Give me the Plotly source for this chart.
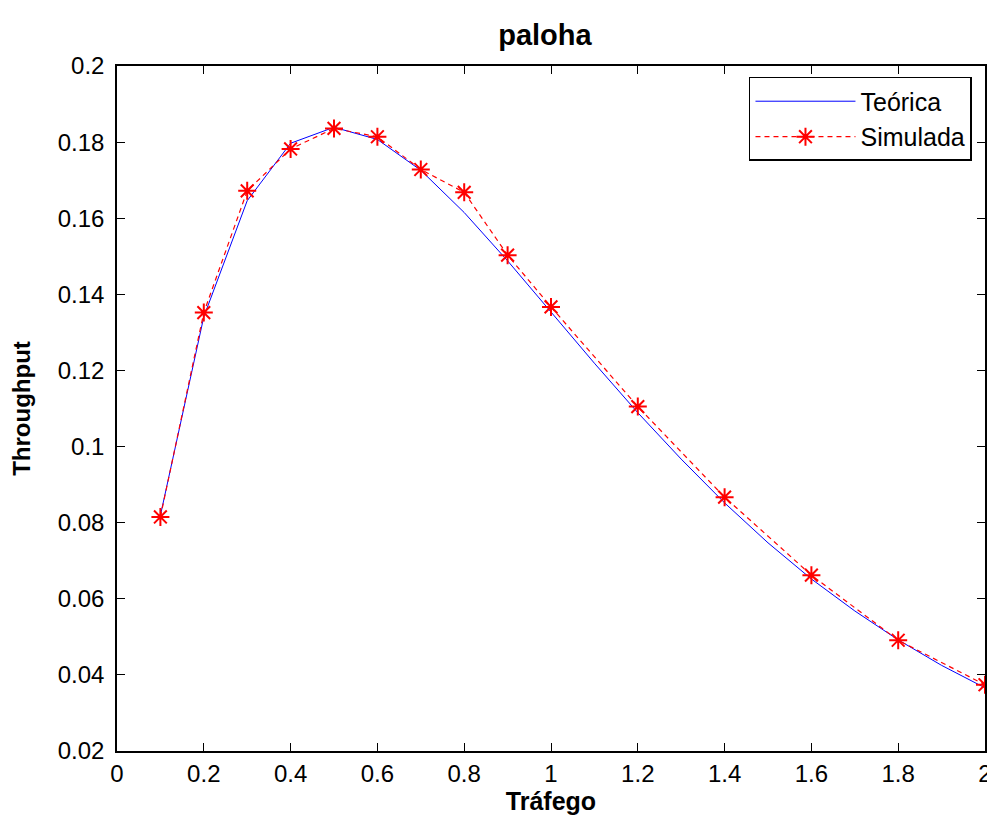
import plotly.graph_objects as go

# Theoretical curve
x_teo = [0.1, 0.2, 0.3, 0.4, 0.5, 0.6, 0.7, 0.8, 0.9, 1.0,
         1.1, 1.2, 1.3, 1.4, 1.5, 1.6, 1.7, 1.8, 1.9, 2.0]
y_teo = [0.0819, 0.1341, 0.1646, 0.1797, 0.1839, 0.1807, 0.1726, 0.1615, 0.1488, 0.1353,
         0.1219, 0.1089, 0.0967, 0.0852, 0.0747, 0.0652, 0.0568, 0.0492, 0.0425, 0.0366]

# Simulated points
x_sim = [0.1, 0.2, 0.3, 0.4, 0.5, 0.6, 0.7, 0.8, 0.9, 1.0, 1.2, 1.4, 1.6, 1.8, 2.0]
y_sim = [0.0815, 0.1352, 0.1672, 0.1782, 0.1836, 0.1814, 0.1728, 0.1668, 0.1503, 0.1367,
         0.1105, 0.0867, 0.0662, 0.0491, 0.0374]

x_ticks = [0, 0.2, 0.4, 0.6, 0.8, 1, 1.2, 1.4, 1.6, 1.8, 2]
x_ticktext = ["0", "0.2", "0.4", "0.6", "0.8", "1", "1.2", "1.4", "1.6", "1.8", "2"]
y_ticks = [0.02, 0.04, 0.06, 0.08, 0.1, 0.12, 0.14, 0.16, 0.18, 0.2]
y_ticktext = ["0.02", "0.04", "0.06", "0.08", "0.1", "0.12", "0.14", "0.16", "0.18", "0.2"]

FONT = "Liberation Sans, Arial, sans-serif"

fig = go.Figure()
fig.add_trace(go.Scatter(
    x=x_teo, y=y_teo, mode="lines", name="Teórica",
    line=dict(color="#0000ff", width=1),
))
fig.add_trace(go.Scatter(
    x=x_sim, y=y_sim, mode="lines+markers", name="Simulada",
    line=dict(color="#ff0000", width=1.2, dash="5px,4px"),
    marker=dict(symbol="asterisk-open", size=15, color="#ff0000",
                line=dict(color="#ff0000", width=2)),
    cliponaxis=False,
))

axis_common = dict(
    showgrid=False, zeroline=False, showline=True, linecolor="black", linewidth=1.5,
    mirror="ticks", ticks="inside", ticklen=8, tickwidth=1.2, tickcolor="black",
    tickfont=dict(family=FONT, size=24, color="black"),
    ticklabeloverflow="allow", automargin=False,
)

fig.update_layout(
    width=987, height=820,
    paper_bgcolor="white", plot_bgcolor="white",
    margin=dict(l=117, r=2, t=66, b=69, autoexpand=False),
    title=dict(text="<b>paloha</b>", xref="paper", x=0.493, xanchor="center",
               yref="container", y=0.958, yanchor="middle",
               font=dict(family=FONT, size=29, color="black")),
    xaxis=dict(range=[0, 2], tickvals=x_ticks, ticktext=x_ticktext,
               title=dict(text="<b>Tráfego</b>", standoff=4,
                          font=dict(family=FONT, size=25, color="black")),
               **axis_common),
    yaxis=dict(range=[0.02, 0.2], tickvals=y_ticks, ticktext=y_ticktext,
               ticklabelstandoff=6,
               title=dict(text="<b>Throughput</b>", standoff=20,
                          font=dict(family=FONT, size=24, color="black")),
               **axis_common),
    legend=dict(x=0.985, xanchor="right", y=0.984, yanchor="top",
                bgcolor="white", bordercolor="black", borderwidth=1.5,
                font=dict(family=FONT, size=25, color="black"),
                itemwidth=100),
    showlegend=True,
)

fig.write_html(
    "out.html",
    config={"displayModeBar": False},
    post_script="document.body.style.margin='0';document.body.style.overflow='hidden';",
)
